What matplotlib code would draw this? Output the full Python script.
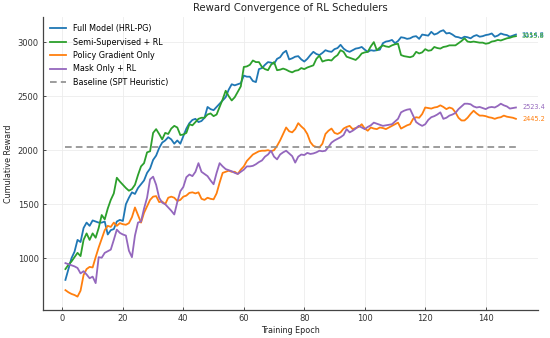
"""Reward convergence of RL schedulers (recreated chart)."""

import matplotlib

matplotlib.use("Agg")
import matplotlib.pyplot as plt
import numpy as np

epochs = np.arange(1, 151)

full_model = [
    800, 900, 1000, 1060, 1170, 1150, 1280, 1330, 1300, 1350,
    1340, 1330, 1330, 1340, 1220, 1260, 1270, 1340, 1355, 1345,
    1500, 1560, 1610, 1595, 1650, 1685, 1720, 1790, 1830, 1910,
    1950, 2020, 2070, 2090, 2120, 2100, 2060, 2090, 2060, 2130,
    2200, 2250, 2280, 2290, 2260, 2270, 2300, 2400, 2380, 2370,
    2400, 2430, 2460, 2490, 2560, 2610, 2600, 2610, 2620, 2690,
    2680, 2680, 2640, 2630, 2750, 2760, 2790, 2815, 2810, 2800,
    2845, 2860, 2900, 2920, 2840, 2850, 2865, 2870, 2840, 2820,
    2845, 2880, 2910, 2890, 2880, 2900, 2925, 2915, 2910, 2935,
    2945, 2975, 2940, 2920, 2910, 2925, 2940, 2945, 2955, 2930,
    2910, 2925, 2920, 2925, 2930, 2990, 3005, 3010, 3020, 2990,
    3010, 3045, 3040, 3030, 3035, 3050, 3055, 3030, 3070, 3065,
    3060, 3095, 3070, 3080, 3100, 3110, 3080, 3085, 3070, 3050,
    3045, 3035, 3050, 3045, 3035, 3055, 3065, 3050, 3055, 3065,
    3070, 3080, 3050, 3060, 3080, 3070, 3065, 3050, 3060, 3070,
]

semi_supervised = [
    900, 940, 970, 1010, 1050, 1020, 1170, 1230, 1170, 1230,
    1190, 1280, 1400, 1360, 1460, 1540, 1600, 1745, 1710, 1680,
    1650, 1625, 1640, 1680, 1770, 1850, 1880, 1980, 1990, 2160,
    2195, 2150, 2100, 2160, 2150, 2200, 2225, 2210, 2140, 2145,
    2160, 2240, 2230, 2260, 2290, 2300, 2300, 2330, 2340, 2315,
    2330, 2400, 2470, 2550, 2500, 2460, 2490, 2540, 2590, 2770,
    2775, 2790, 2830, 2815, 2815, 2770, 2750, 2740, 2790, 2815,
    2740, 2745, 2755, 2745, 2730, 2720, 2735, 2740, 2760, 2750,
    2765, 2775, 2785, 2845, 2875, 2820, 2830, 2835, 2830, 2860,
    2880, 2925, 2910, 2865, 2855, 2845, 2835, 2860, 2895, 2905,
    2910, 2960, 3000, 2925, 2950, 2970, 2960, 2955, 2970, 2980,
    2985, 2880, 2870, 2865, 2860, 2870, 2910, 2895, 2905, 2935,
    2920, 2925, 2955, 2945, 2940, 2955, 2960, 2970, 2970, 2970,
    2990, 3010, 3035, 3005, 3000, 3005, 3000, 2995, 2995, 2985,
    2990, 3005, 3010, 3020, 3015, 3025, 3035, 3040, 3050, 3055,
]

policy_gradient = [
    705, 685, 670, 660, 645, 700, 845, 900, 920, 915,
    1010, 1100, 1180, 1260, 1300, 1290, 1330, 1300, 1325, 1315,
    1310, 1325, 1380, 1470, 1400, 1330, 1420, 1480, 1540, 1570,
    1575, 1520, 1525, 1500, 1560, 1570, 1560, 1530, 1540, 1570,
    1580, 1605, 1610, 1600, 1610, 1550, 1540, 1560, 1550, 1545,
    1600, 1700, 1790, 1800, 1810, 1800, 1800, 1780, 1820, 1850,
    1900, 1930, 1960, 1975, 1990, 1995, 1995, 2000, 1990, 2000,
    2040, 2090, 2150, 2210, 2175, 2165, 2195, 2250, 2220, 2195,
    2150, 2075, 2040, 2030, 2025, 2060, 2150, 2180, 2200, 2160,
    2150, 2165, 2200, 2215, 2225, 2195, 2205, 2215, 2240, 2200,
    2180, 2210, 2200, 2195, 2210, 2205, 2195, 2210, 2225, 2240,
    2255, 2200, 2215, 2230, 2240, 2290, 2305, 2300, 2335, 2395,
    2390, 2385, 2395, 2400, 2415, 2400, 2380, 2395, 2385, 2350,
    2300, 2275, 2275, 2300, 2335, 2365, 2340, 2320, 2320, 2315,
    2305, 2300, 2290, 2300, 2305, 2320, 2310, 2305, 2300, 2290,
]

mask_only = [
    955, 945, 935, 925, 910, 860, 880, 850, 815, 830,
    770, 1010, 1005, 1050, 1065, 1080, 1170, 1265, 1235, 1220,
    1210, 1070, 1010, 1210, 1330, 1340, 1460, 1560, 1730, 1755,
    1680, 1560, 1515, 1500, 1470, 1440, 1405, 1520, 1620, 1660,
    1750, 1775, 1760, 1800, 1880, 1800, 1780, 1760, 1720, 1685,
    1790, 1880, 1850, 1825, 1815, 1805, 1790, 1780, 1800, 1820,
    1850, 1850, 1855, 1870, 1890, 1905, 1940, 1960, 1995, 1940,
    1915, 1960, 1980, 1995, 1970, 1945, 1885, 1940, 1960, 1955,
    1975, 1965, 1970, 1980, 1995, 1990, 1995, 2030, 2070, 2090,
    2105, 2120, 2140, 2195, 2165, 2180, 2200, 2225, 2210, 2195,
    2215, 2230, 2255, 2245, 2235, 2225, 2230, 2235, 2240, 2265,
    2290, 2350, 2365, 2375, 2380, 2320, 2260, 2240, 2225, 2240,
    2280, 2305, 2315, 2330, 2350, 2290, 2300, 2320, 2330, 2345,
    2380, 2405, 2430, 2430, 2425, 2405, 2395, 2400, 2390, 2380,
    2395, 2400, 2395, 2410, 2430, 2415, 2405, 2385, 2390, 2395,
]

baseline_reward = 2030

series_names = [
    "Full Model (HRL-PG)",
    "Semi-Supervised + RL",
    "Policy Gradient Only",
    "Mask Only + RL",
]
series_values = [full_model, semi_supervised, policy_gradient, mask_only]
end_labels = ["3114.8", "3055.8", "2445.2", "2523.4"]
colors = ["#1f77b4", "#2ca02c", "#ff7f0e", "#9467bd"]

fig = plt.figure(figsize=(5.5, 3.38), dpi=100)
ax = fig.add_axes([0.078, 0.083, 0.901, 0.867])

for name, values, label, color in zip(series_names, series_values, end_labels, colors):
    ax.plot(epochs, values, color=color, linewidth=1.3, label=name)
    ax.text(
        epochs[-1] + 2,
        values[-1],
        label,
        color=color,
        fontsize=4.7,
        ha="left",
        va="center",
    )

ax.plot(
    epochs,
    np.full(len(epochs), baseline_reward),
    color="#8c8c8c",
    linestyle=(0, (4, 2.5)),
    linewidth=1.2,
    label="Baseline (SPT Heuristic)",
)

ax.set_title("Reward Convergence of RL Schedulers", fontsize=7.3, color="#222222", pad=4)
ax.set_xlabel("Training Epoch", fontsize=5.8, color="#222222", labelpad=2)
ax.set_ylabel("Cumulative Reward", fontsize=5.8, color="#222222", labelpad=3)
ax.set_xticks([0, 20, 40, 60, 80, 100, 120, 140])
ax.set_yticks([1000, 1500, 2000, 2500, 3000])
ax.tick_params(labelsize=6, colors="#333333", direction="in", length=2, width=0.6, pad=3)

ax.grid(color="#ececec", linewidth=0.6)
ax.set_axisbelow(True)
ax.spines[["top", "right"]].set_visible(False)
for side in ("left", "bottom"):
    ax.spines[side].set_color("#444444")
    ax.spines[side].set_linewidth(0.9)

ax.legend(loc="upper left", frameon=False, fontsize=5.8, labelspacing=0.55)

fig.savefig("out.png", dpi=100, facecolor="white")
